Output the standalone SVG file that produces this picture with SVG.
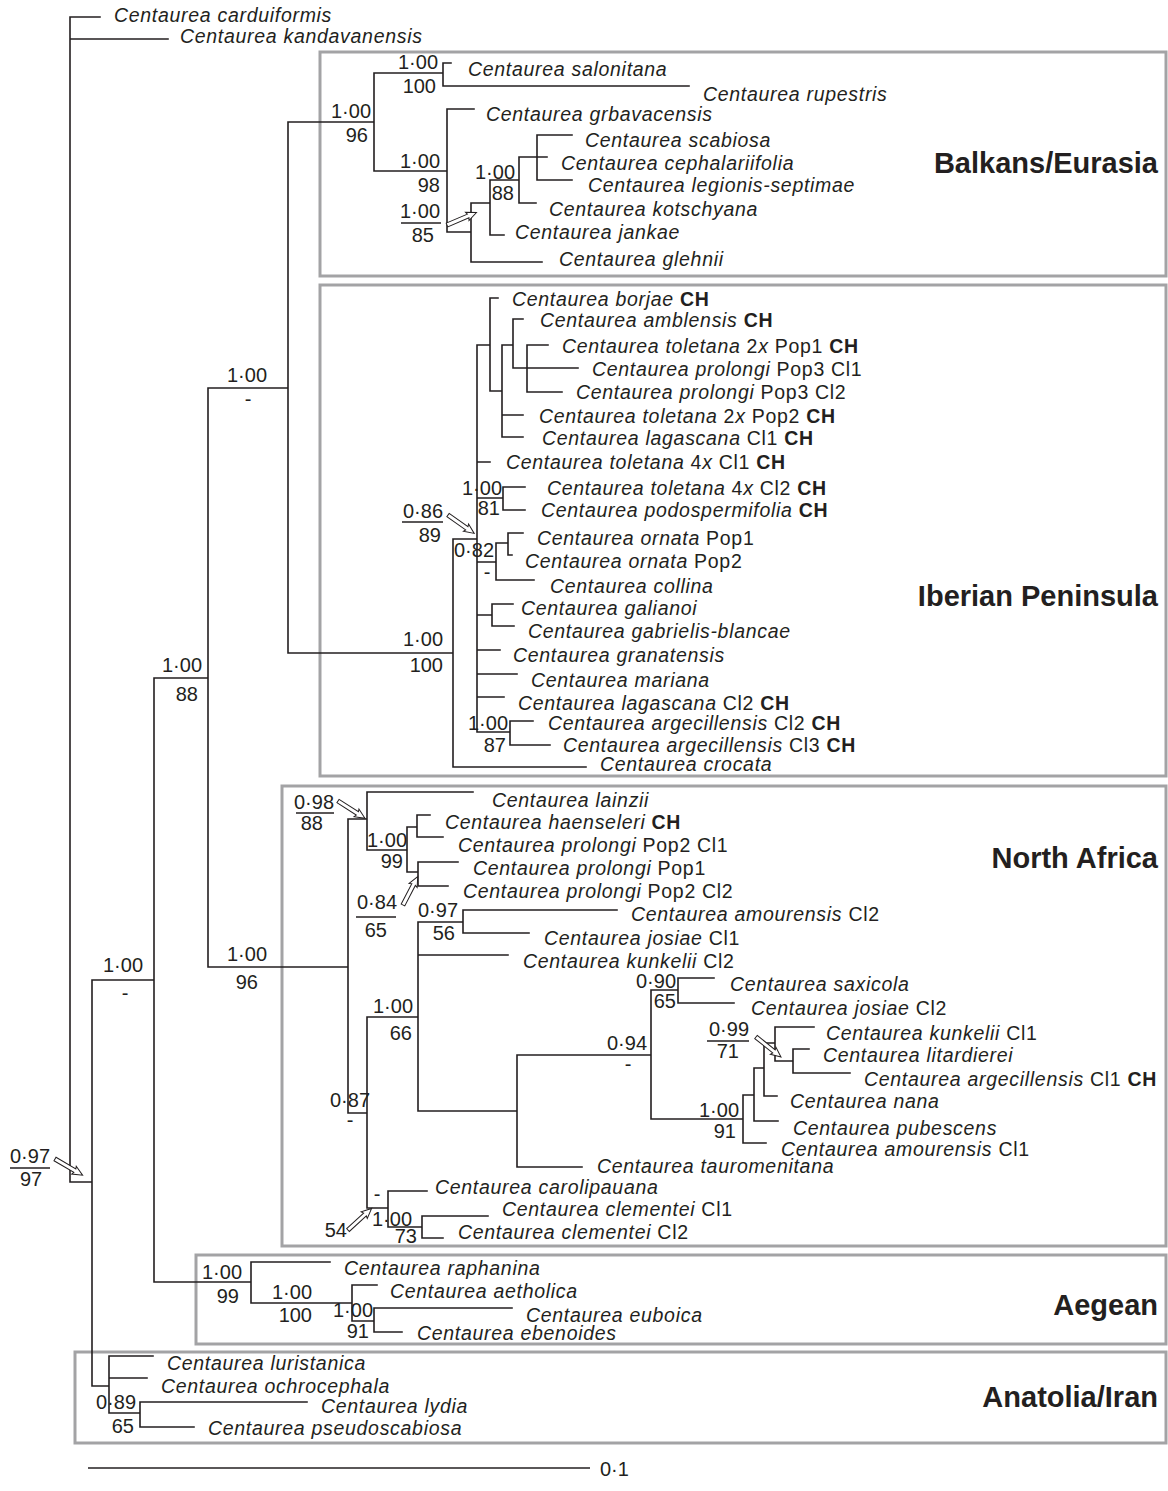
<svg xmlns="http://www.w3.org/2000/svg" xmlns:xlink="http://www.w3.org/1999/xlink" width="1168" height="1491" viewBox="0 0 1168 1491">
<style>
.t{font-family:"Liberation Sans",Arial,sans-serif;font-size:19.5px;font-style:italic;letter-spacing:0.7px;fill:#231f20}
.n{font-style:normal}
.b{font-style:normal;font-weight:bold}
.s{font-family:"Liberation Sans",Arial,sans-serif;font-size:20px;fill:#231f20;text-anchor:end}
.c{text-anchor:middle}
.r{font-family:"Liberation Sans",Arial,sans-serif;font-size:29px;font-weight:bold;fill:#231f20;text-anchor:end}
.box{fill:none;stroke:#a3a3a5;stroke-width:3}
.tree{fill:none;stroke:#231f20;stroke-width:1.6;stroke-linecap:square}
.ul{stroke:#231f20;stroke-width:1.4}
</style>
<defs>
<path id="arr" d="M0,-2 L23,-2 L22,-4.5 L32,0 L22,4.5 L23,2 L0,2 Z" fill="#fff" stroke="#231f20" stroke-width="1"/>
</defs>
<rect width="1168" height="1491" fill="#fff"/>

<g id="regions">
<g id="region-balkans"><rect class="box" x="320" y="52" width="846" height="224"/><text class="r" x="1158" y="173">Balkans/Eurasia</text></g>
<g id="region-iberia"><rect class="box" x="320" y="285" width="846" height="491"/><text class="r" x="1158" y="606">Iberian Peninsula</text></g>
<g id="region-nafrica"><rect class="box" x="282" y="786" width="884" height="460"/><text class="r" x="1158" y="868">North Africa</text></g>
<g id="region-aegean"><rect class="box" x="196" y="1255" width="970" height="89"/><text class="r" x="1158" y="1315">Aegean</text></g>
<g id="region-anatolia"><rect class="box" x="75" y="1352" width="1091" height="91"/><text class="r" x="1158" y="1407">Anatolia/Iran</text></g>
</g>

<g id="connectors">
<path class="tree" d="M70,17 H100 M70,39 H168 M70,17 V1182 H92
M92,980 V1386 M92,980 H154 M92,1386 H109
M109,1356 V1413 M109,1356 H153 M109,1378 H147 M109,1413 H140 M140,1402 V1427 M140,1402 H307 M140,1427 H194
M154,678 V1282 M154,678 H208 M154,1282 H251
M251,1262 V1303 M251,1262 H330 M251,1303 H352 M352,1285 V1321 M352,1285 H377 M352,1321 H374 M374,1308 V1332 M374,1308 H512 M374,1332 H402
M208,388 V967 M208,388 H288 M208,967 H348
M288,122 V653 M288,122 H374 M288,653 H453
M374,73 V171 M374,73 H443 M443,63 V86 M443,63 H451 M443,86 H689 M374,171 H447
M447,109 V232 M447,109 H474 M447,232 H471 M471,203 V262 M471,203 H490 M471,262 H542
M490,180 V235 M490,180 H519 M490,235 H504 M519,157 V203 M519,157 H537 M519,203 H536
M537,135 V180 M537,135 H572 M537,157 H547 M537,180 H572
M453,539 V767 M453,539 H477 M453,767 H586
M477,345 V732
M477,345 H490 M490,298 V391 M490,298 H498 M490,391 H502 M502,345 V437 M502,345 H513
M513,319 V368 M513,319 H523 M513,368 H578 M527,345 V392 M527,345 H548 M527,392 H562
M502,415 H523 M502,437 H523
M477,462 H490
M477,498 H503 M503,487 V510 M503,487 H525 M503,510 H525
M477,562 H496 M496,543 V580 M496,543 H508 M508,533 V555 M508,533 H523 M508,555 H512 M496,580 H534
M477,615 H492 M492,604 V626 M492,604 H513 M492,626 H514
M477,650 H500 M477,674 H517 M477,697 H504
M477,732 H510 M510,721 V745 M510,721 H533 M510,745 H550
M348,819 V1113
M348,819 H367 M367,792 V850 M367,792 H473 M367,850 H407 M407,827 V872 M407,827 H417
M417,815 V837 M417,815 H430 M417,837 H443 M407,872 H418 M418,862 V886 M418,862 H458 M418,886 H448
M348,1113 H367 M367,1017 V1208 M367,1017 H418 M418,922 V1111 M418,922 H463
M463,910 V933 M463,910 H617 M463,933 H529 M418,955 H508 M418,1111 H517
M517,1055 V1167 M517,1167 H582 M517,1055 H651 M651,990 V1119 M651,990 H678
M678,978 V1003 M678,978 H714 M678,1003 H734
M651,1119 H743 M743,1095 V1143 M743,1095 H754 M743,1143 H766
M754,1068 V1121 M754,1068 H764 M754,1121 H778 M764,1043 V1096 M764,1043 H775 M764,1096 H777
M775,1027 V1061 M775,1027 H814 M775,1061 H793 M793,1049 V1073 M793,1049 H809 M793,1073 H850
M367,1208 H388 M388,1191 V1227 M388,1191 H427 M388,1227 H422 M422,1216 V1238 M422,1216 H488 M422,1238 H443"/>
<use xlink:href="#arr" transform="translate(55,1159) rotate(30.4)"/>
<use xlink:href="#arr" transform="translate(447,225) rotate(-23)"/>
<use xlink:href="#arr" transform="translate(448,515) rotate(35.1)"/>
<use xlink:href="#arr" transform="translate(338,801) rotate(32.7)"/>
<use xlink:href="#arr" transform="translate(403,905) rotate(-62.6)"/>
<use xlink:href="#arr" transform="translate(756,1037) rotate(38.7)"/>
<use xlink:href="#arr" transform="translate(348,1230) rotate(-42.4)"/>
</g>

<g id="taxa">
<g id="t-carduiformis"><text class="t" x="114" y="22">Centaurea carduiformis</text></g>
<g id="t-kandavanensis"><text class="t" x="180" y="43">Centaurea kandavanensis</text></g>
<g id="t-salonitana"><text class="t" x="468" y="76">Centaurea salonitana</text></g>
<g id="t-rupestris"><text class="t" x="703" y="101">Centaurea rupestris</text></g>
<g id="t-grbavacensis"><text class="t" x="486" y="121">Centaurea grbavacensis</text></g>
<g id="t-scabiosa"><text class="t" x="585" y="147">Centaurea scabiosa</text></g>
<g id="t-cephalariifolia"><text class="t" x="561" y="170">Centaurea cephalariifolia</text></g>
<g id="t-legionis"><text class="t" x="588" y="192">Centaurea legionis-septimae</text></g>
<g id="t-kotschyana"><text class="t" x="549" y="216">Centaurea kotschyana</text></g>
<g id="t-jankae"><text class="t" x="515" y="239">Centaurea jankae</text></g>
<g id="t-glehnii"><text class="t" x="559" y="266">Centaurea glehnii</text></g>

<g id="t-borjae"><text class="t" x="512" y="306">Centaurea borjae <tspan class="b">CH</tspan></text></g>
<g id="t-amblensis"><text class="t" x="540" y="327">Centaurea amblensis <tspan class="b">CH</tspan></text></g>
<g id="t-toletana2x1"><text class="t" x="562" y="353">Centaurea toletana <tspan class="n">2</tspan>x<tspan class="n"> Pop1 </tspan><tspan class="b">CH</tspan></text></g>
<g id="t-prolongi3c1"><text class="t" x="592" y="376">Centaurea prolongi<tspan class="n"> Pop3 Cl1</tspan></text></g>
<g id="t-prolongi3c2"><text class="t" x="576" y="399">Centaurea prolongi<tspan class="n"> Pop3 Cl2</tspan></text></g>
<g id="t-toletana2x2"><text class="t" x="539" y="423">Centaurea toletana <tspan class="n">2</tspan>x<tspan class="n"> Pop2 </tspan><tspan class="b">CH</tspan></text></g>
<g id="t-lagascana1"><text class="t" x="542" y="445">Centaurea lagascana<tspan class="n"> Cl1 </tspan><tspan class="b">CH</tspan></text></g>
<g id="t-toletana4x1"><text class="t" x="506" y="469">Centaurea toletana <tspan class="n">4</tspan>x<tspan class="n"> Cl1 </tspan><tspan class="b">CH</tspan></text></g>
<g id="t-toletana4x2"><text class="t" x="547" y="495">Centaurea toletana <tspan class="n">4</tspan>x<tspan class="n"> Cl2 </tspan><tspan class="b">CH</tspan></text></g>
<g id="t-podospermifolia"><text class="t" x="541" y="517">Centaurea podospermifolia <tspan class="b">CH</tspan></text></g>
<g id="t-ornata1"><text class="t" x="537" y="545">Centaurea ornata<tspan class="n"> Pop1</tspan></text></g>
<g id="t-ornata2"><text class="t" x="525" y="568">Centaurea ornata<tspan class="n"> Pop2</tspan></text></g>
<g id="t-collina"><text class="t" x="550" y="593">Centaurea collina</text></g>
<g id="t-galianoi"><text class="t" x="521" y="615">Centaurea galianoi</text></g>
<g id="t-gabrielis"><text class="t" x="528" y="638">Centaurea gabrielis-blancae</text></g>
<g id="t-granatensis"><text class="t" x="513" y="662">Centaurea granatensis</text></g>
<g id="t-mariana"><text class="t" x="531" y="687">Centaurea mariana</text></g>
<g id="t-lagascana2"><text class="t" x="518" y="710">Centaurea lagascana<tspan class="n"> Cl2 </tspan><tspan class="b">CH</tspan></text></g>
<g id="t-argecillensis2"><text class="t" x="548" y="730">Centaurea argecillensis<tspan class="n"> Cl2 </tspan><tspan class="b">CH</tspan></text></g>
<g id="t-argecillensis3"><text class="t" x="563" y="752">Centaurea argecillensis<tspan class="n"> Cl3 </tspan><tspan class="b">CH</tspan></text></g>
<g id="t-crocata"><text class="t" x="600" y="771">Centaurea crocata</text></g>

<g id="t-lainzii"><text class="t" x="492" y="807">Centaurea lainzii</text></g>
<g id="t-haenseleri"><text class="t" x="445" y="829">Centaurea haenseleri <tspan class="b">CH</tspan></text></g>
<g id="t-prolongi2c1"><text class="t" x="458" y="852">Centaurea prolongi<tspan class="n"> Pop2 Cl1</tspan></text></g>
<g id="t-prolongi1"><text class="t" x="473" y="875">Centaurea prolongi<tspan class="n"> Pop1</tspan></text></g>
<g id="t-prolongi2c2"><text class="t" x="463" y="898">Centaurea prolongi<tspan class="n"> Pop2 Cl2</tspan></text></g>
<g id="t-amourensis2"><text class="t" x="631" y="921">Centaurea amourensis<tspan class="n"> Cl2</tspan></text></g>
<g id="t-josiae1"><text class="t" x="544" y="945">Centaurea josiae<tspan class="n"> Cl1</tspan></text></g>
<g id="t-kunkelii2"><text class="t" x="523" y="968">Centaurea kunkelii<tspan class="n"> Cl2</tspan></text></g>
<g id="t-saxicola"><text class="t" x="730" y="991">Centaurea saxicola</text></g>
<g id="t-josiae2"><text class="t" x="751" y="1015">Centaurea josiae<tspan class="n"> Cl2</tspan></text></g>
<g id="t-kunkelii1"><text class="t" x="826" y="1040">Centaurea kunkelii<tspan class="n"> Cl1</tspan></text></g>
<g id="t-litardierei"><text class="t" x="823" y="1062">Centaurea litardierei</text></g>
<g id="t-argecillensis1"><text class="t" x="864" y="1086">Centaurea argecillensis<tspan class="n"> Cl1 </tspan><tspan class="b">CH</tspan></text></g>
<g id="t-nana"><text class="t" x="790" y="1108">Centaurea nana</text></g>
<g id="t-pubescens"><text class="t" x="793" y="1135">Centaurea pubescens</text></g>
<g id="t-amourensis1"><text class="t" x="781" y="1156">Centaurea amourensis<tspan class="n"> Cl1</tspan></text></g>
<g id="t-tauromenitana"><text class="t" x="597" y="1173">Centaurea tauromenitana</text></g>
<g id="t-carolipauana"><text class="t" x="435" y="1194">Centaurea carolipauana</text></g>
<g id="t-clementei1"><text class="t" x="502" y="1216">Centaurea clementei<tspan class="n"> Cl1</tspan></text></g>
<g id="t-clementei2"><text class="t" x="458" y="1239">Centaurea clementei<tspan class="n"> Cl2</tspan></text></g>

<g id="t-raphanina"><text class="t" x="344" y="1275">Centaurea raphanina</text></g>
<g id="t-aetholica"><text class="t" x="390" y="1298">Centaurea aetholica</text></g>
<g id="t-euboica"><text class="t" x="526" y="1322">Centaurea euboica</text></g>
<g id="t-ebenoides"><text class="t" x="417" y="1340">Centaurea ebenoides</text></g>

<g id="t-luristanica"><text class="t" x="167" y="1370">Centaurea luristanica</text></g>
<g id="t-ochrocephala"><text class="t" x="161" y="1393">Centaurea ochrocephala</text></g>
<g id="t-lydia"><text class="t" x="321" y="1413">Centaurea lydia</text></g>
<g id="t-pseudoscabiosa"><text class="t" x="208" y="1435">Centaurea pseudoscabiosa</text></g>
</g>

<g id="support">
<g id="s-root"><text class="s c" x="30" y="1163">0·97</text><line class="ul" x1="10" y1="1168" x2="50" y2="1168"/><text class="s c" x="31" y="1186">97</text></g>
<g id="s-B"><text class="s" x="143" y="972">1·00</text><text class="s c" x="125" y="1000">-</text></g>
<g id="s-C"><text class="s" x="202" y="672">1·00</text><text class="s" x="198" y="701">88</text></g>
<g id="s-D"><text class="s" x="267" y="382">1·00</text><text class="s c" x="248" y="406">-</text></g>
<g id="s-NA"><text class="s" x="267" y="961">1·00</text><text class="s" x="258" y="989">96</text></g>
<g id="s-E"><text class="s" x="371" y="118">1·00</text><text class="s" x="368" y="142">96</text></g>
<g id="s-F"><text class="s" x="438" y="69">1·00</text><text class="s" x="436" y="93">100</text></g>
<g id="s-G"><text class="s" x="440" y="168">1·00</text><text class="s" x="440" y="192">98</text></g>
<g id="s-H"><text class="s" x="440" y="218">1·00</text><line class="ul" x1="401" y1="223" x2="441" y2="223"/><text class="s" x="434" y="242">85</text></g>
<g id="s-J"><text class="s" x="515" y="179">1·00</text><text class="s" x="514" y="200">88</text></g>
<g id="s-L"><text class="s" x="443" y="646">1·00</text><text class="s" x="443" y="672">100</text></g>
<g id="s-M"><text class="s" x="443" y="518">0·86</text><line class="ul" x1="402" y1="522" x2="443" y2="522"/><text class="s" x="441" y="542">89</text></g>
<g id="s-R"><text class="s" x="502" y="495">1·00</text><text class="s" x="500" y="515">81</text></g>
<g id="s-S"><text class="s" x="494" y="557">0·82</text><text class="s c" x="487" y="579">-</text></g>
<g id="s-V"><text class="s" x="508" y="730">1·00</text><text class="s" x="506" y="752">87</text></g>
<g id="s-X"><text class="s" x="334" y="809">0·98</text><line class="ul" x1="296" y1="813" x2="334" y2="813"/><text class="s" x="323" y="830">88</text></g>
<g id="s-Z"><text class="s" x="407" y="847">1·00</text><text class="s" x="403" y="868">99</text></g>
<g id="s-BB"><text class="s" x="397" y="909">0·84</text><line class="ul" x1="356" y1="917" x2="396" y2="917"/><text class="s" x="387" y="937">65</text></g>
<g id="s-EE"><text class="s" x="458" y="917">0·97</text><text class="s" x="455" y="940">56</text></g>
<g id="s-CC"><text class="s" x="413" y="1013">1·00</text><text class="s" x="412" y="1040">66</text></g>
<g id="s-Y"><text class="s" x="370" y="1107">0·87</text><text class="s c" x="350" y="1127">-</text></g>
<g id="s-GG"><text class="s" x="647" y="1050">0·94</text><text class="s c" x="628" y="1071">-</text></g>
<g id="s-HH"><text class="s" x="676" y="988">0·90</text><text class="s" x="676" y="1008">65</text></g>
<g id="s-LL"><text class="s" x="749" y="1036">0·99</text><line class="ul" x1="707" y1="1041" x2="749" y2="1041"/><text class="s" x="739" y="1058">71</text></g>
<g id="s-II"><text class="s" x="739" y="1117">1·00</text><text class="s" x="736" y="1138">91</text></g>
<g id="s-DD"><text class="s c" x="377" y="1201">-</text><text class="s" x="347" y="1237">54</text></g>
<g id="s-NN"><text class="s" x="412" y="1226">1·00</text><text class="s" x="417" y="1243">73</text></g>
<g id="s-AE1"><text class="s" x="242" y="1279">1·00</text><text class="s" x="239" y="1303">99</text></g>
<g id="s-AE2"><text class="s" x="312" y="1299">1·00</text><text class="s" x="312" y="1322">100</text></g>
<g id="s-AE3"><text class="s" x="373" y="1317">1·00</text><text class="s" x="369" y="1338">91</text></g>
<g id="s-AN"><text class="s" x="136" y="1409">0·89</text><text class="s" x="134" y="1433">65</text></g>
</g>

<g id="scale">
<line class="ul" x1="88" y1="1468" x2="590" y2="1468" stroke-width="1.6"/>
<text class="s" x="600" y="1476" style="text-anchor:start">0·1</text>
</g>
</svg>
